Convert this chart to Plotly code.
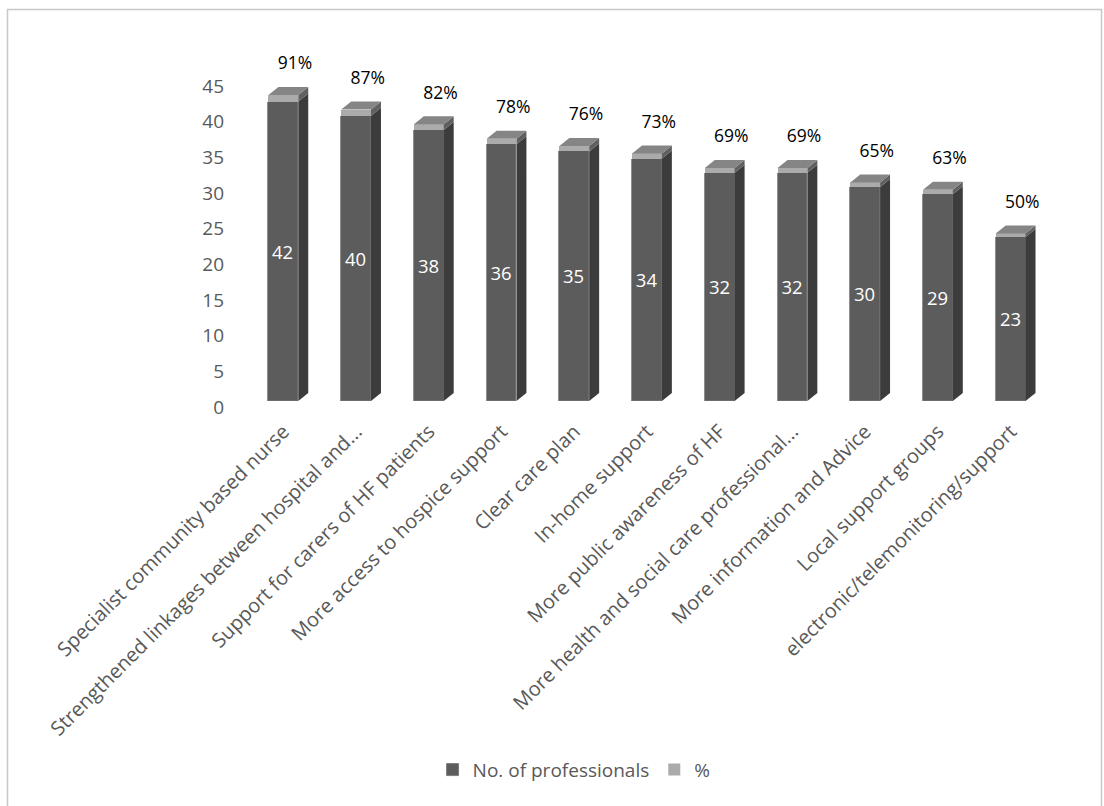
import plotly.graph_objects as go

# Survey results: services professionals would like to see for heart-failure patients
categories = [
    "Specialist community based nurse",
    "Strengthened linkages between hospital and...",
    "Support for carers of HF patients",
    "More access to hospice support",
    "Clear care plan",
    "In-home support",
    "More public awareness of HF",
    "More health and social care professional...",
    "More information and Advice",
    "Local support groups",
    "electronic/telemonitoring/support",
]
professionals = [42, 40, 38, 36, 35, 34, 32, 32, 30, 29, 23]
percent = [0.91, 0.87, 0.82, 0.78, 0.76, 0.73, 0.69, 0.69, 0.65, 0.63, 0.50]
y_ticks = [0, 5, 10, 15, 20, 25, 30, 35, 40, 45]

FONT = "Open Sans"
GREY_TXT = "#595959"
FRONT_DARK = "#5c5c5c"
SIDE_DARK = "#3c3c3c"
FRONT_LIGHT = "#ababab"
SIDE_LIGHT = "#606060"
TOP_FACE = "#858585"

BAR_W = 0.41      # front-face width in category units
DEPTH_X = 0.137   # oblique depth, x component (category units)
DEPTH_Y = 1.12    # oblique depth, y component (value units)
PX_PER_UNIT = 7.13

W, H = 1104, 806
M_L, M_R, M_T, M_B = 247, 57, 30, 405

xs = list(range(len(categories)))
totals = [c + p for c, p in zip(professionals, percent)]

fig = go.Figure()

# front faces (stacked)
fig.add_trace(go.Bar(
    x=xs, y=professionals, width=BAR_W, name="No. of professionals",
    marker=dict(color=FRONT_DARK, line=dict(color="#727272", width=0.8)),
    text=[str(v) for v in professionals], textposition="inside",
    insidetextanchor="middle", textangle=0,
    textfont=dict(family=FONT, size=18.5, color="white"),
    hoverinfo="skip",
))
fig.add_trace(go.Bar(
    x=xs, y=percent, width=BAR_W, name="%",
    marker=dict(color=FRONT_LIGHT, line=dict(width=0)),
    hoverinfo="skip",
))


def polys(builder):
    px, py = [], []
    for i in xs:
        qx, qy = builder(i)
        px += qx + [qx[0], None]
        py += qy + [qy[0], None]
    return px, py


# side faces of the dark segment
sx, sy = polys(lambda i: (
    [i + BAR_W / 2, i + BAR_W / 2 + DEPTH_X, i + BAR_W / 2 + DEPTH_X, i + BAR_W / 2],
    [0, DEPTH_Y, professionals[i] + DEPTH_Y, professionals[i]],
))
fig.add_trace(go.Scatter(x=sx, y=sy, mode="lines", fill="toself", fillcolor=SIDE_DARK,
                         line=dict(width=0, color=SIDE_DARK), showlegend=False, hoverinfo="skip"))

# side faces of the light segment
lx, ly = polys(lambda i: (
    [i + BAR_W / 2, i + BAR_W / 2 + DEPTH_X, i + BAR_W / 2 + DEPTH_X, i + BAR_W / 2],
    [professionals[i], professionals[i] + DEPTH_Y, totals[i] + DEPTH_Y, totals[i]],
))
fig.add_trace(go.Scatter(x=lx, y=ly, mode="lines", fill="toself", fillcolor=SIDE_LIGHT,
                         line=dict(width=0, color=SIDE_LIGHT), showlegend=False, hoverinfo="skip"))

# top faces
tx, ty = polys(lambda i: (
    [i - BAR_W / 2, i + BAR_W / 2, i + BAR_W / 2 + DEPTH_X, i - BAR_W / 2 + DEPTH_X],
    [totals[i], totals[i], totals[i] + DEPTH_Y, totals[i] + DEPTH_Y],
))
fig.add_trace(go.Scatter(x=tx, y=ty, mode="lines", fill="toself", fillcolor=TOP_FACE,
                         line=dict(width=0, color=TOP_FACE), showlegend=False, hoverinfo="skip"))

# percentage labels above each column
fig.add_trace(go.Scatter(
    x=[i + 0.16 for i in xs], y=[t + 4.2 for t in totals], mode="text",
    text=[f"{round(p * 100)}%" for p in percent], textposition="middle center",
    textfont=dict(family=FONT, size=17.5, color="black"),
    cliponaxis=False, showlegend=False, hoverinfo="skip",
))

plot_h = H - M_T - M_B
y_top = plot_h / PX_PER_UNIT

fig.update_layout(
    width=W, height=H,
    margin=dict(l=M_L, r=M_R, t=M_T, b=M_B, autoexpand=False),
    barmode="stack", bargap=0,
    paper_bgcolor="white", plot_bgcolor="white",
    font=dict(family=FONT, color=GREY_TXT),
    xaxis=dict(
        range=[-0.5, len(categories) - 0.5], tickmode="array", tickvals=xs,
        ticktext=categories, tickangle=-45, showgrid=False, zeroline=False,
        showline=False, ticks="", tickfont=dict(family=FONT, size=20, color=GREY_TXT),
        ticklabelstandoff=14,
    ),
    yaxis=dict(
        range=[0, y_top], tickmode="array", tickvals=y_ticks,
        showgrid=False, zeroline=False, showline=False, ticks="",
        tickfont=dict(family=FONT, size=19, color=GREY_TXT),
        ticklabelstandoff=22, ticklabelshift=6,
    ),
    legend=dict(
        orientation="h", xref="container", yref="container",
        x=0.52, y=0.045, xanchor="center", yanchor="middle",
        font=dict(family=FONT, size=19, color=GREY_TXT),
        itemclick=False, traceorder="normal",
    ),
    shapes=[dict(
        type="rect", xref="paper", yref="paper",
        x0=(7.5 - M_L) / (W - M_L - M_R), x1=(1101.5 - M_L) / (W - M_L - M_R),
        y0=(H - M_B - 830) / plot_h, y1=(H - M_B - 9.5) / plot_h,
        line=dict(color="#c8c8c8", width=1.5), fillcolor="rgba(0,0,0,0)", layer="below",
    )],
)

fig.write_html("out.html")
